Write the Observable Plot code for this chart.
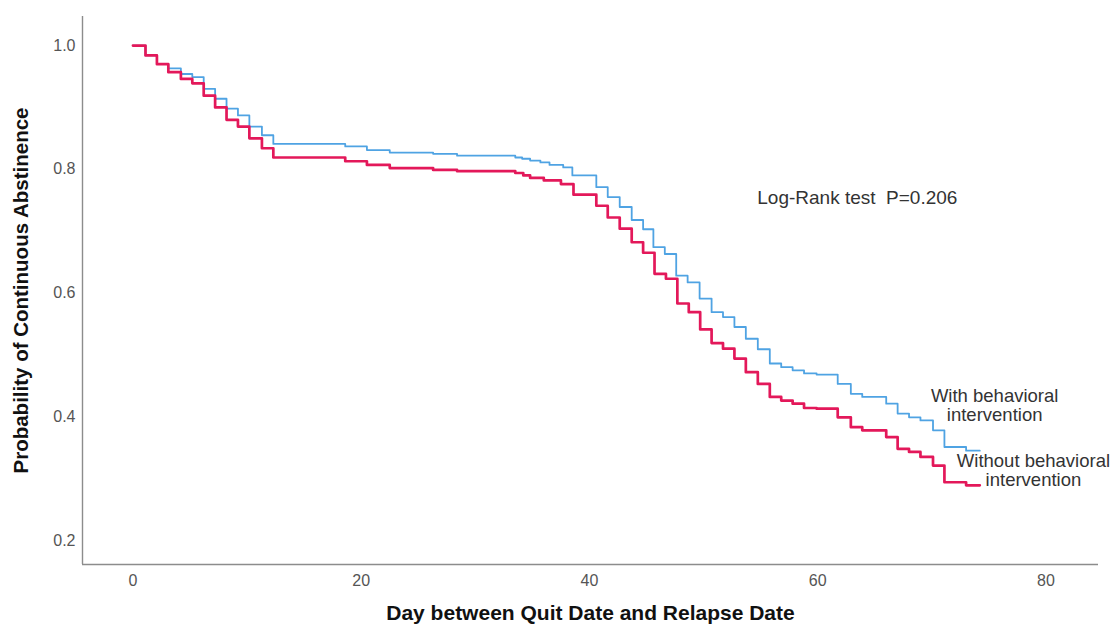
<!DOCTYPE html>
<html><head><meta charset="utf-8">
<script src="https://cdn.jsdelivr.net/npm/d3@7"></script>
<script src="https://cdn.jsdelivr.net/npm/@observablehq/plot@0.6"></script>
<style>body{margin:0;background:#fff}</style>
</head><body><div id="chart"></div>
<script>
const withDays = [0,1.1,2.1,3.1,4.2,5.2,6.2,7.2,8.2,9.2,10.2,11.3,12.3,18.6,20.5,22.5,26.3,28.4,33.5,34.1,34.8,35.7,36.5,37.7,38.5,40.6,41.6,42.65,43.7,44.7,45.6,46.6,47.6,48.6,49.65,50.7,51.7,52.7,53.7,54.75,55.8,56.8,57.8,58.8,59.9,61.75,62.9,63.9,66.0,67.0,68.0,69.0,70.1,71.1,73.0,74.2];
const withSurv = [1.0,0.984,0.970,0.963,0.954,0.949,0.930,0.914,0.898,0.887,0.869,0.855,0.841,0.837,0.831,0.827,0.825,0.822,0.819,0.817,0.814,0.811,0.807,0.803,0.790,0.771,0.755,0.739,0.718,0.703,0.674,0.663,0.628,0.617,0.591,0.569,0.561,0.545,0.526,0.509,0.486,0.480,0.475,0.470,0.468,0.453,0.437,0.432,0.421,0.405,0.399,0.394,0.378,0.351,0.345,0.345];
const withoutDays = [0,1.1,2.1,3.1,4.2,5.2,6.2,7.2,8.2,9.2,10.2,11.3,12.3,18.6,20.5,22.5,26.3,28.4,33.5,34.2,34.8,36.0,37.5,38.6,40.6,41.6,42.65,43.7,44.7,45.7,46.7,47.7,48.7,49.7,50.7,51.7,52.7,53.7,54.75,55.8,56.8,57.8,58.8,59.9,61.75,62.9,63.9,66.0,67.0,68.0,69.0,70.1,71.1,73.0,74.2];
const withoutSurv = [1.0,0.984,0.970,0.957,0.946,0.939,0.919,0.900,0.880,0.869,0.850,0.834,0.819,0.813,0.807,0.802,0.799,0.797,0.794,0.790,0.786,0.782,0.776,0.759,0.741,0.722,0.704,0.682,0.665,0.631,0.623,0.583,0.569,0.541,0.519,0.510,0.494,0.472,0.453,0.432,0.426,0.421,0.414,0.413,0.399,0.383,0.378,0.367,0.348,0.343,0.335,0.321,0.294,0.289,0.289];
const xTicks = [0,20,40,60,80];
const yTicks = [0.2,0.4,0.6,0.8,1.0];
const xTitle = "Day between Quit Date and Relapse Date";
const yTitle = "Probability of Continuous Abstinence";
const testLabel = "Log-Rank test  P=0.206";
const withLabel = "With behavioral\nintervention";
const withoutLabel = "Without behavioral\nintervention";

const withRows = withDays.map((d,i)=>({day:d, surv:withSurv[i]}));
const withoutRows = withoutDays.map((d,i)=>({day:d, surv:withoutSurv[i]}));
const font = "'Liberation Sans', Arial, sans-serif";
const xMin = -4.42, xMax = 84.6, yMin = 0.161, yMax = 1.047;

const chart = Plot.plot({
  width: 1117, height: 629,
  marginLeft: 82, marginRight: 19, marginTop: 16, marginBottom: 65,
  style: {fontFamily: font, background: "#fff"},
  x: {domain: [xMin, xMax]},
  y: {domain: [yMin, yMax]},
  marks: [
    Plot.axisX({ticks: xTicks, tickSize: 0, tickPadding: 10, fontSize: 16, fill: "#555", label: null}),
    Plot.axisY({ticks: yTicks, tickFormat: d3.format(".1f"), tickSize: 0, tickPadding: 7, fontSize: 16, fill: "#555", label: null}),
    Plot.ruleX([xMin], {stroke: "#8c8c8c", strokeWidth: 1.4}),
    Plot.ruleY([yMin], {stroke: "#8c8c8c", strokeWidth: 1.4}),
    Plot.line(withRows, {x: "day", y: "surv", curve: "step-after", stroke: "#4fa3e3", strokeWidth: 1.8}),
    Plot.line(withoutRows, {x: "day", y: "surv", curve: "step-after", stroke: "#e3185a", strokeWidth: 2.7}),
    Plot.text([testLabel], {x: 54.7, y: 0.753, textAnchor: "start", fontSize: 19, fill: "#333"}),
    Plot.text([withLabel], {x: 75.5, y: 0.418, textAnchor: "middle", fontSize: 18.5, lineHeight: 1.03, fill: "#333"}),
    Plot.text([withoutLabel], {x: 78.9, y: 0.313, textAnchor: "middle", fontSize: 18.5, lineHeight: 1.03, fill: "#333"}),
    Plot.text([xTitle], {frameAnchor: "bottom", dy: 55, fontSize: 21, fontWeight: "bold", fill: "#111"}),
    Plot.text([yTitle], {frameAnchor: "left", dx: -61, rotate: -90, textAnchor: "middle", fontSize: 20.5, fontWeight: "bold", fill: "#111"})
  ]
});
document.getElementById("chart").appendChild(chart);
</script>
</body></html>
